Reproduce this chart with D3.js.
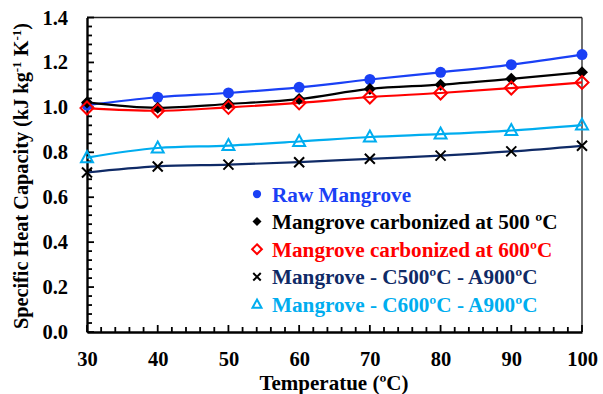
<!DOCTYPE html>
<html><head><meta charset="utf-8">
<script src="https://cdn.jsdelivr.net/npm/d3@7"></script>
<style>body{margin:0;background:#fff}svg{display:block}text{font-family:"Liberation Serif","Times New Roman",serif;font-weight:bold}</style>
</head><body><svg id="c" width="603" height="394"></svg>
<script>
const temps = [30,40,50,60,70,80,90,100];
const rawMangrove = [1.010,1.045,1.064,1.089,1.124,1.156,1.190,1.235];
const carb500 = [1.022,0.998,1.015,1.037,1.082,1.101,1.127,1.156];
const carb600 = [0.997,0.985,1.000,1.020,1.046,1.064,1.086,1.111];
const c500a900 = [0.710,0.737,0.745,0.756,0.771,0.785,0.804,0.829];
const c600a900 = [0.776,0.819,0.830,0.848,0.868,0.881,0.897,0.921];
const yTicks = [0.0,0.2,0.4,0.6,0.8,1.0,1.2,1.4];
const xTicks = [30,40,50,60,70,80,90,100];
const seriesNames = ["Raw Mangrove","Mangrove carbonized at 500 \u00baC","Mangrove carbonized at 600\u00baC","Mangrove - C500\u00baC - A900\u00baC","Mangrove - C600\u00baC - A900\u00baC"];

const series = [
  {name:seriesNames[0], values:rawMangrove, line:"#1a40f5", text:"#1a40f5", marker:"circle"},
  {name:seriesNames[1], values:carb500, line:"#000", text:"#000", marker:"diamondFill"},
  {name:seriesNames[2], values:carb600, line:"#ff0000", text:"#ff0000", marker:"diamondOpen"},
  {name:seriesNames[3], values:c500a900, line:"#0f2a66", text:"#0f2a66", marker:"cross"},
  {name:seriesNames[4], values:c600a900, line:"#00adef", text:"#00adef", marker:"triangle"}
];

const svg = d3.select("#c");
const L=87,R=582,T=17.5,B=332;
const x = d3.scaleLinear().domain([30,100]).range([L,R]);
const y = d3.scaleLinear().domain([0,1.4]).range([B,T]);

// frame
svg.append("line").attr("x1",L).attr("x2",R).attr("y1",T).attr("y2",T).attr("stroke","#222").attr("stroke-width",1.3);
svg.append("line").attr("x1",R).attr("x2",R).attr("y1",T).attr("y2",B).attr("stroke","#222").attr("stroke-width",1.3);

// minor ticks
const yMinor = d3.range(0,1.4001,0.04);
svg.append("g").selectAll("line").data(yMinor).join("line")
  .attr("x1",L).attr("x2",d=>L+(Math.abs(d/0.2-Math.round(d/0.2))<1e-6?7:5))
  .attr("y1",d=>y(d)).attr("y2",d=>y(d)).attr("stroke","#000").attr("stroke-width",1.8);
const xMinor = d3.range(30,100.001,2);
svg.append("g").selectAll("line").data(xMinor).join("line")
  .attr("y1",B).attr("y2",d=>B-((d%10===0)?7:5))
  .attr("x1",d=>x(d)).attr("x2",d=>x(d)).attr("stroke","#000").attr("stroke-width",1.8);

// axes
const ya = d3.axisLeft(y).tickValues(yTicks).tickFormat(d3.format(".1f")).tickSize(0).tickPadding(19);
const xa = d3.axisBottom(x).tickValues(xTicks).tickFormat(d3.format("d")).tickSize(0).tickPadding(19);
const gy = svg.append("g").attr("transform",`translate(${L},0)`).call(ya);
const gx = svg.append("g").attr("transform",`translate(0,${B})`).call(xa);
[gy,gx].forEach(g=>{g.select(".domain").attr("stroke","#000").attr("stroke-width",2.4);
  g.selectAll("text").attr("font-size",20.5).attr("fill","#000").attr("font-family",'"Liberation Serif",serif').attr("font-weight","bold");});

// lines
const lineGen = d3.line().x((d,i)=>x(temps[i])).y(d=>y(d)).curve(d3.curveMonotoneX);
series.forEach(s=>{
  svg.append("path").attr("d",lineGen(s.values)).attr("fill","none").attr("stroke",s.line).attr("stroke-width",2.2);
});

function drawMarker(g,type,cx,cy,sc){
  const k=sc||1;
  if(type==="circle") g.append("circle").attr("cx",cx).attr("cy",cy).attr("r",5.5*k).attr("fill","#1a40f5");
  else if(type==="diamondFill") g.append("path").attr("d",`M${cx},${cy-6*k}L${cx+6*k},${cy}L${cx},${cy+6*k}L${cx-6*k},${cy}Z`).attr("fill","#000");
  else if(type==="diamondOpen") g.append("path").attr("d",`M${cx},${cy-6.5*k}L${cx+6.5*k},${cy}L${cx},${cy+6.5*k}L${cx-6.5*k},${cy}Z`).attr("fill","none").attr("stroke","#ff0000").attr("stroke-width",2);
  else if(type==="cross") g.append("path").attr("d",`M${cx-5*k},${cy-5*k}L${cx+5*k},${cy+5*k}M${cx+5*k},${cy-5*k}L${cx-5*k},${cy+5*k}`).attr("stroke","#000").attr("stroke-width",2);
  else if(type==="triangle") g.append("path").attr("d",`M${cx},${cy-6.5*k}L${cx+6*k},${cy+4.5*k}L${cx-6*k},${cy+4.5*k}Z`).attr("fill","none").attr("stroke","#00adef").attr("stroke-width",2);
}
series.forEach(s=>{
  const g=svg.append("g");
  s.values.forEach((v,i)=>drawMarker(g,s.marker,x(temps[i]),y(v)));
});

// legend
const lg = svg.append("g");
series.forEach((s,i)=>{
  const yy = 195+i*27.6;
  drawMarker(lg,s.marker,257,yy-1,0.75);
  lg.append("text").attr("x",272).attr("y",yy+6.5).attr("font-size",21.2).attr("fill",s.text).text(s.name);
});

// axis titles
svg.append("text").attr("x",334).attr("y",390).attr("text-anchor","middle").attr("font-size",21).attr("fill","#000").text("Temperatue (\u00baC)");
const yt = svg.append("text").attr("transform","translate(28,176) rotate(-90)").attr("text-anchor","middle").attr("font-size",20.3).attr("fill","#000");
yt.append("tspan").text("Specific Heat Capacity (kJ kg");
yt.append("tspan").attr("font-size",13).attr("dy",-7).text("-1");
yt.append("tspan").attr("dy",7).text(" K");
yt.append("tspan").attr("font-size",13).attr("dy",-7).text("-1");
yt.append("tspan").attr("dy",7).text(")");
</script></body></html>
